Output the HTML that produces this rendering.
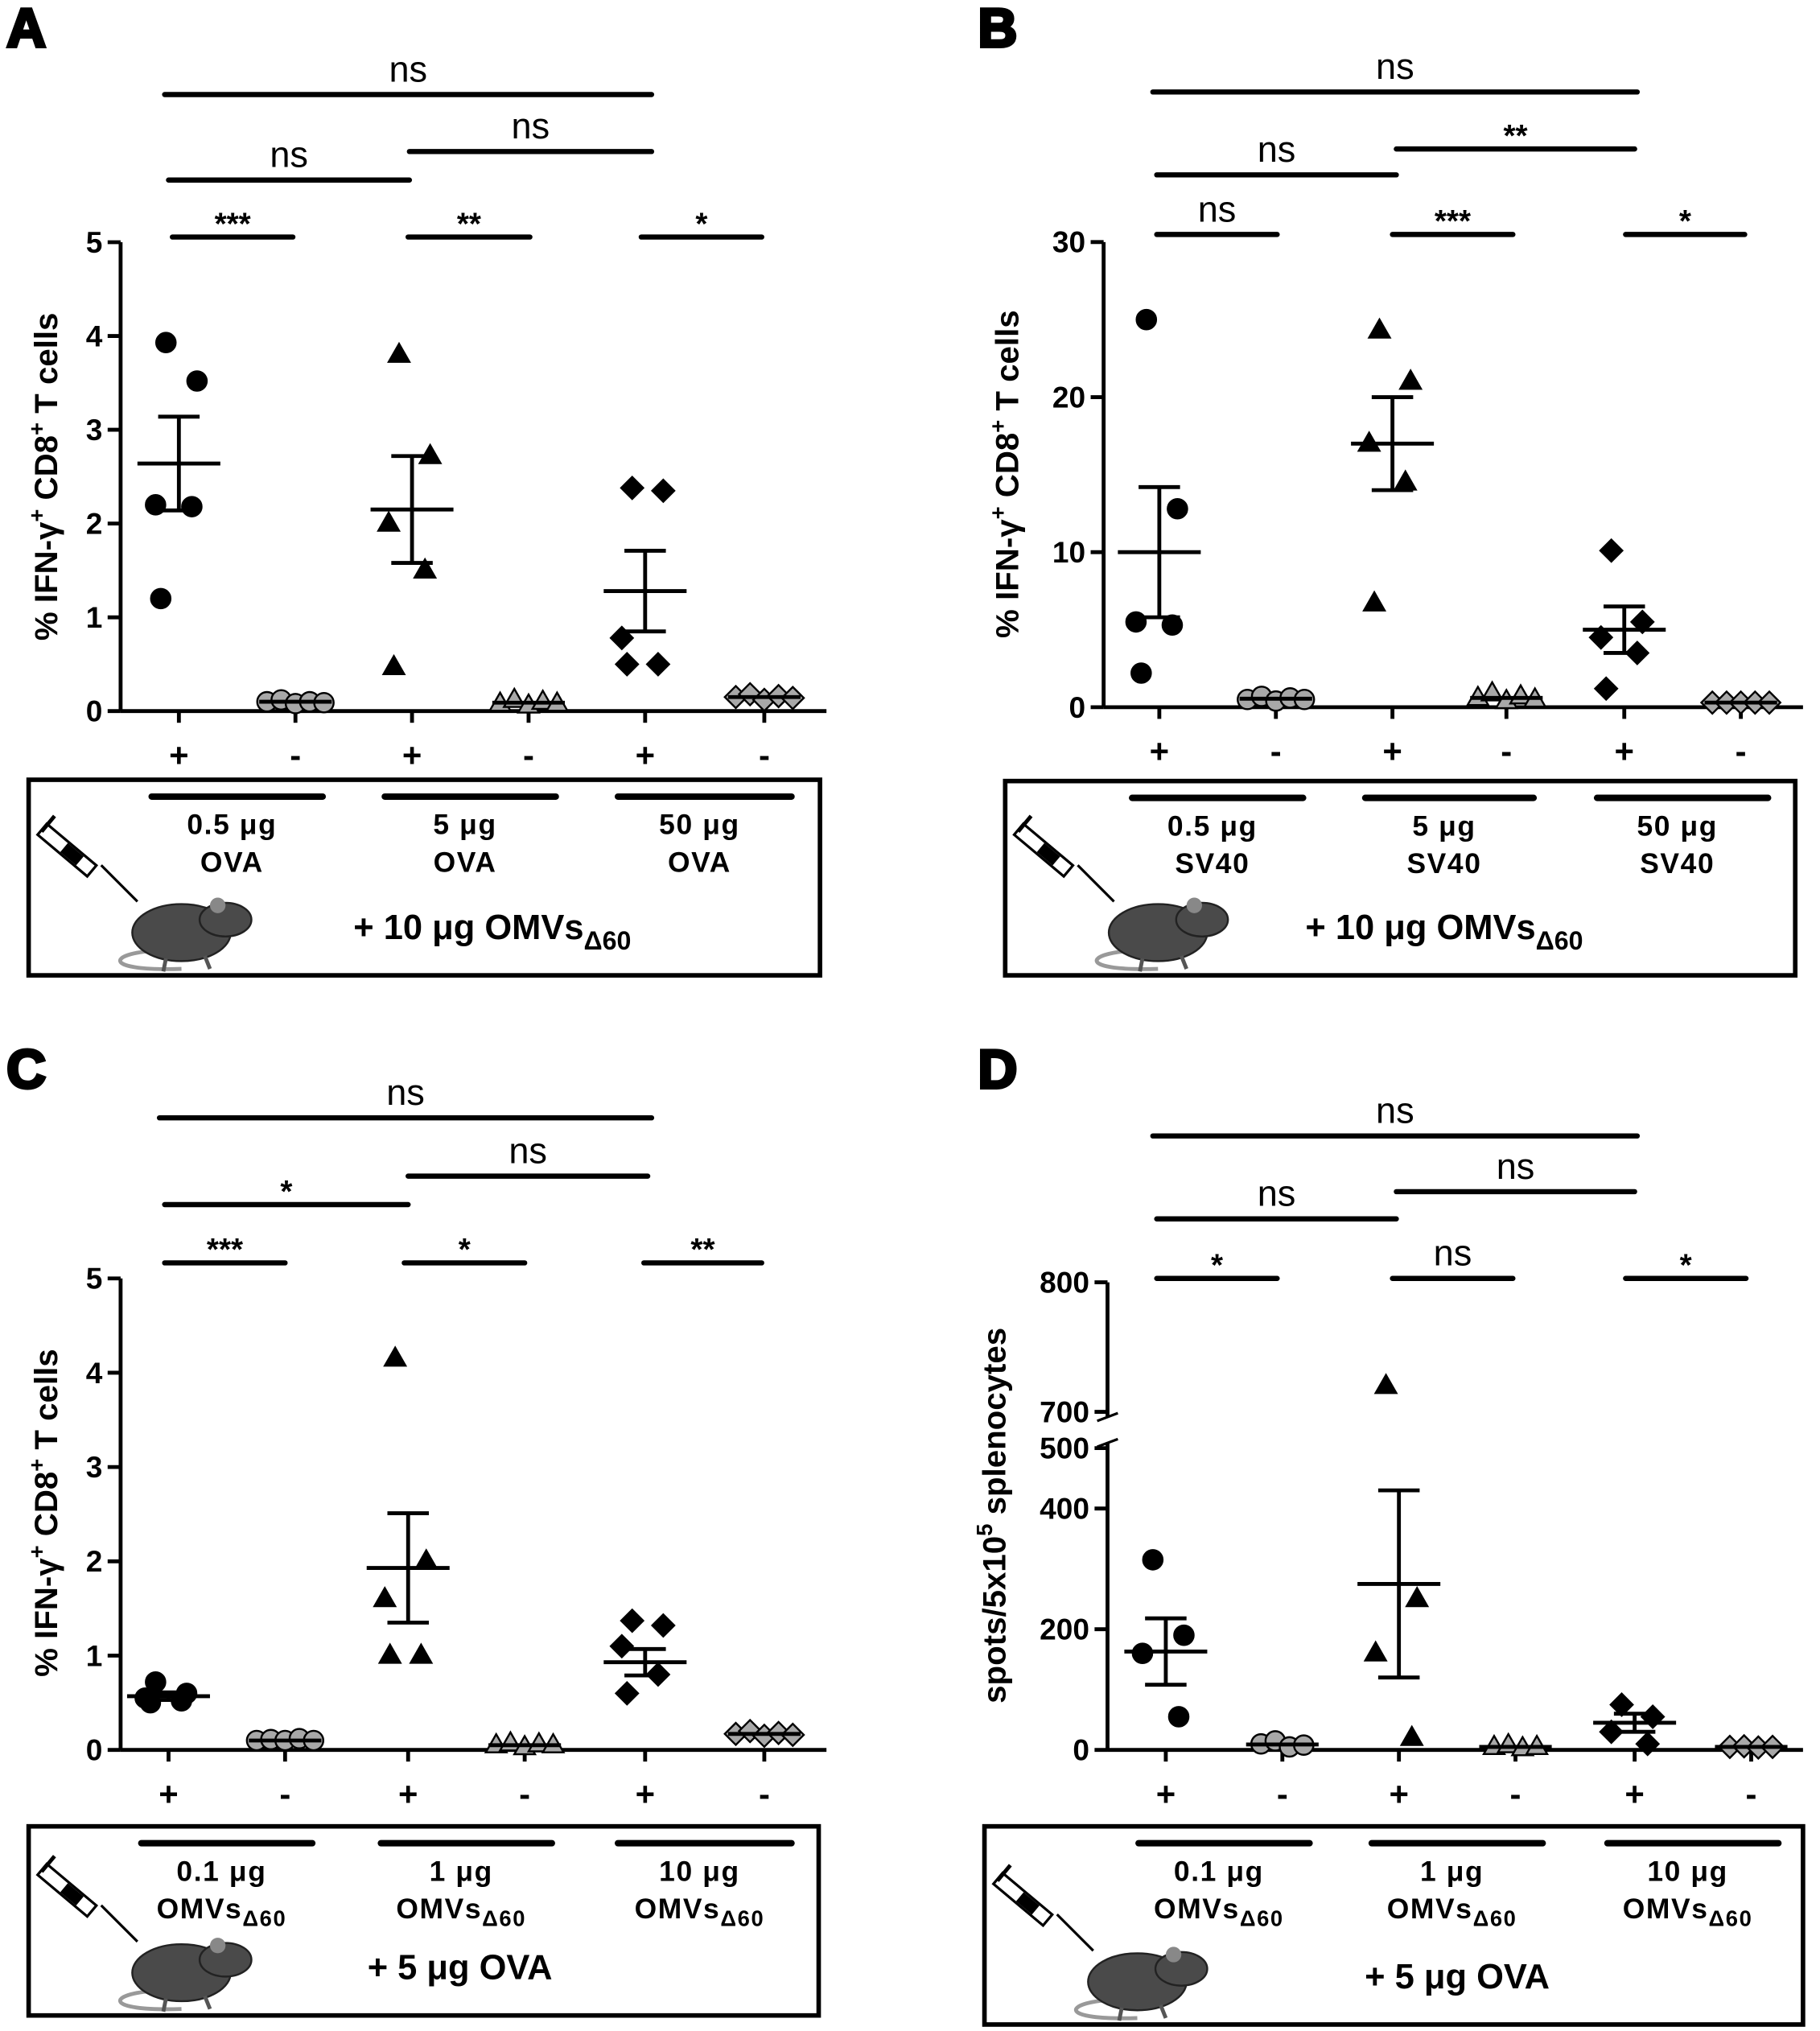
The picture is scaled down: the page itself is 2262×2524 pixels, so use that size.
<!DOCTYPE html>
<html><head><meta charset="utf-8"><style>
html,body{margin:0;padding:0;background:#fff}
svg{display:block}
text{font-family:"Liberation Sans",sans-serif;font-weight:bold;fill:#000}
</style></head><body>
<svg id="fig" width="2262" height="2524" viewBox="0 0 1405 1568" xmlns="http://www.w3.org/2000/svg"></svg>
<script>
// Panel A data (% IFN-g+ CD8+)
const aCats = ["+","-","+","-","+","-"];
const aG1 = [3.93,3.52,2.2,2.18,1.2];
const aG2 = [0.1,0.12,0.08,0.1,0.09];
const aG3 = [3.8,2.72,2.0,1.5,0.47];
const aG4 = [0.08,0.12,0.06,0.1,0.08];
const aG5 = [2.38,2.35,0.78,0.5,0.5];
const aG6 = [0.15,0.18,0.12,0.16,0.14];
const aMean = [2.64,0.1,2.15,0.09,1.28,0.15];
const aSem = [0.5,0.02,0.57,0.02,0.43,0.02];
const aTicks = [0,1,2,3,4,5];
// Panel B
const bG1 = [25,12.8,5.5,5.3,2.2];
const bG2 = [0.5,0.7,0.4,0.6,0.5];
const bG3 = [24.3,21,17,14.5,6.7];
const bG4 = [0.6,0.9,0.4,0.7,0.5];
const bG5 = [10.1,5.5,4.5,3.5,1.2];
const bG6 = [0.3,0.3,0.3,0.3,0.3];
const bMean = [10,0.55,17,0.6,5,0.3];
const bSem = [4.2,0.1,3,0.1,1.5,0.03];
const bTicks = [0,10,20,30];
// Panel C
const cG1 = [0.72,0.6,0.55,0.52,0.5];
const cG2 = [0.1,0.11,0.1,0.12,0.1];
const cG3 = [4.15,2.0,1.6,1.0,1.0];
const cG4 = [0.05,0.07,0.03,0.06,0.05];
const cG5 = [1.37,1.32,1.1,0.8,0.6];
const cG6 = [0.17,0.2,0.15,0.18,0.16];
const cMean = [0.57,0.1,1.93,0.05,0.93,0.17];
const cSem = [0.04,0.01,0.58,0.01,0.14,0.02];
const cTicks = [0,1,2,3,4,5];
// Panel D (spots)
const dG1 = [315,190,160,55];
const dG2 = [10,15,5,8];
const dG3 = [720,250,160,20];
const dG4 = [5,8,3,5];
const dG5 = [75,55,30,10];
const dG6 = [5,6,4,5];
const dMean = [163,9,275,5,45,5];
const dSem = [55,2,155,1,15,1];
const dTicks = [0,200,400,500,700,800];

const S = document.getElementById('fig');
const NS = "http://www.w3.org/2000/svg";
function mk(tag, at, parent){const e=document.createElementNS(NS,tag);for(const k in at)e.setAttribute(k,at[k]);(parent||S).appendChild(e);return e;}
function txt(x,y,s,size,anchor,parent){const t=mk('text',{x:x,y:y,'font-size':size,'text-anchor':anchor||'middle'},parent);t.textContent=s;return t;}
function ln(x1,y1,x2,y2,w,parent){return mk('line',{x1:x1,y1:y1,x2:x2,y2:y2,stroke:'#000','stroke-width':w||3},parent);}

function marker(g,shape,x,y,fill){
  const r=7.5;let e;
  if(shape==='circle') e=mk('circle',{cx:x,cy:y,r:r,fill:fill,stroke:'#000','stroke-width':1.5},g);
  else if(shape==='tri') e=mk('polygon',{points:`${x},${y-r-1} ${x-r-0.5},${y+r-2} ${x+r+0.5},${y+r-2}`,fill:fill,stroke:'#000','stroke-width':1.5},g);
  else if(shape==='dia') e=mk('polygon',{points:`${x},${y-r-1} ${x+r+1},${y} ${x},${y+r+1} ${x-r-1},${y}`,fill:fill,stroke:'#000','stroke-width':1.5},g);
  
  
}

function panel(P){
  const g=mk('g',{});
  
  
  txt(P.lx,P.ly,P.letter,42,'start',g).setAttribute('style','font-weight:900;stroke:#000;stroke-width:2.5');
  const y=P.y;
  const ax=mk('g',{},g);
  if(P.broken){
    ln(P.ax,y(0),P.ax,y(500)-4,3,ax);ln(P.ax,y(700)+4,P.ax,y(800),3,ax);
    ln(P.ax-8,y(500)-1,P.ax+8,y(500)-7,2,ax);ln(P.ax-8,y(700)+7,P.ax+8,y(700)+1,2,ax);
  } else ln(P.ax,y(0),P.ax,y(P.ticks[P.ticks.length-1]),3,ax);
  P.ticks.forEach(t=>{ln(P.ax-10,y(t),P.ax,y(t),3,ax);txt(P.ax-14,y(t)+8,String(t),23,'end',ax);});
  const xa=mk('g',{},g);
  ln(P.ax,y(0),P.xend,y(0),3,xa);
  P.cx.forEach((x,i)=>{ln(x,y(0),x,y(0)+9,3,xa);txt(x,y(0)+43,aCats[i],26,'middle',xa);});
  const yt=mk('text',{transform:`translate(${P.tx},${P.ty}) rotate(-90)`,'font-size':25,'text-anchor':'middle'},g);
  
  yt.innerHTML=P.title;
  const shapes=['circle','circle','tri','tri','dia','dia'];
  P.groups.forEach((arr,i)=>{
    const fill=i%2===0?'#000':'#a8a8a8';
    const n=arr.length;
    arr.forEach((v,j)=>{
      const off=(j-(n-1)/2)*(i%2===0?13:11);
      const sgn=(i%2===0)?((j%2)?1:-1):1;
      const dx=i%2===0?sgn*(10+ (j%3)*4):off;
      marker(g,shapes[i],P.cx[i]+dx,y(v),fill);
    });
    const m=P.mean[i],s=P.sem[i];
    const hw=i%2===0?32:28;
    const eb=mk('g',{},g);
    ln(P.cx[i]-hw,y(m),P.cx[i]+hw,y(m),3,eb);
    if(i%2===0){ln(P.cx[i],y(m+s),P.cx[i],y(m-s),3,eb);ln(P.cx[i]-16,y(m+s),P.cx[i]+16,y(m+s),3,eb);ln(P.cx[i]-16,y(m-s),P.cx[i]+16,y(m-s),3,eb);}
  });
  P.br.forEach(b=>{
    const bg=mk('g',{},g);
    mk('line',{x1:b[0],y1:b[2],x2:b[1],y2:b[2],stroke:'#000','stroke-width':4,'stroke-linecap':'round'},bg);
    const isNs=b[3]==='ns';
    txt((b[0]+b[1])/2,isNs?b[2]-10:b[2]-2,b[3],isNs?28:24,'middle',bg).setAttribute('style',isNs?'font-weight:normal':'');
  });
  const bx=mk('g',{},g);
  mk('rect',{x:P.box[0],y:P.box[1],width:P.box[2]-P.box[0],height:P.box[3]-P.box[1],fill:'none',stroke:'#000','stroke-width':3.5},bx);
  const bl=P.box[1]+13;
  for(let k=0;k<3;k++){
    const x1=P.cx[2*k]-21,x2=P.cx[2*k+1]+21;
    mk('line',{x1:x1,y1:bl,x2:x2,y2:bl,stroke:'#000','stroke-width':5,'stroke-linecap':'round'},bx);
    const cxm=(P.cx[2*k]+P.cx[2*k+1])/2-4;
    const t1=txt(cxm,bl+29,'',22,'middle',bx);t1.innerHTML=P.doses[k]+' μg';t1.setAttribute('letter-spacing','1');
    const t2=txt(cxm,bl+58,'',22,'middle',bx);t2.innerHTML=P.agent;t2.setAttribute('letter-spacing','1');
  }
  const t3=txt(P.subx,P.box[3]-28,'',27,'middle',bx);t3.innerHTML=P.sub;
  const ic=mk('g',{transform:`translate(${P.box[0]+6},${P.box[3]-125})`},bx);
  
  mk('line',{x1:50,y1:40,x2:78,y2:68,stroke:'#000','stroke-width':2},ic);
  mk('rect',{x:8,y:8,width:50,height:11,fill:'#fff',stroke:'#000','stroke-width':2,transform:'rotate(40 8 8)'},ic);
  mk('rect',{x:30,y:9,width:16,height:9,fill:'#000',transform:'rotate(40 8 8)'},ic);
  mk('line',{x1:4,y1:14,x2:14,y2:2,stroke:'#000','stroke-width':3},ic);
  mk('path',{d:'M92,106 C55,108 50,122 112,120',fill:'none',stroke:'#999','stroke-width':3},ic);
  mk('ellipse',{cx:112,cy:92,rx:38,ry:22,fill:'#4a4a4a',stroke:'#222','stroke-width':1.5},ic);
  mk('ellipse',{cx:146,cy:82,rx:20,ry:13,fill:'#4a4a4a',stroke:'#222','stroke-width':1.5},ic);
  mk('circle',{cx:140,cy:71,r:6,fill:'#888'},ic);
  mk('line',{x1:100,y1:112,x2:98,y2:122,stroke:'#555','stroke-width':3},ic);
  mk('line',{x1:130,y1:110,x2:134,y2:120,stroke:'#555','stroke-width':3},ic);
}

const fnA=v=>549-v*72.4, fnB=v=>546-v*11.97, fnC=v=>1351-v*72.8;
const fnD=v=>v<=500?1351-v*0.466:1090-(v-700)*1.0;
const ttl='% IFN-γ<tspan dy="-10" font-size="17">+</tspan><tspan dy="10"> CD8</tspan><tspan dy="-10" font-size="17">+</tspan><tspan dy="10"> T cells</tspan>';
panel({letter:'A',lx:5,ly:36,y:fnA,ax:93,xend:638,cx:[138,228,318,408,498,590],ticks:aTicks,title:ttl,tx:44,ty:368,
 groups:[aG1,aG2,aG3,aG4,aG5,aG6],mean:aMean,sem:aSem,
 br:[[133,226,183,'***'],[315,409,183,'**'],[495,588,183,'*'],[130,316,139,'ns'],[316,503,117,'ns'],[127,503,73,'ns']],
 box:[22,602,633,753],doses:['0.5','5','50'],agent:'OVA',sub:'+ 10 μg OMVs<tspan dy="8" font-size="20">Δ60</tspan>',subx:380});
panel({letter:'B',lx:755,ly:36,y:fnB,ax:852,xend:1392,cx:[895,985,1075,1163,1254,1344],ticks:bTicks,title:ttl,tx:786,ty:366,
 groups:[bG1,bG2,bG3,bG4,bG5,bG6],mean:bMean,sem:bSem,
 br:[[893,986,181,'ns'],[1075,1168,181,'***'],[1255,1347,181,'*'],[893,1078,135,'ns'],[1078,1262,115,'**'],[890,1264,71,'ns']],
 box:[776,603,1386,753],doses:['0.5','5','50'],agent:'SV40',sub:'+ 10 μg OMVs<tspan dy="8" font-size="20">Δ60</tspan>',subx:1115});
const omv='OMVs<tspan dy="6" font-size="17">Δ60</tspan>';
panel({letter:'C',lx:5,ly:840,y:fnC,ax:93,xend:638,cx:[130,220,315,405,498,590],ticks:cTicks,title:ttl,tx:44,ty:1168,
 groups:[cG1,cG2,cG3,cG4,cG5,cG6],mean:cMean,sem:cSem,
 br:[[127,220,975,'***'],[312,405,975,'*'],[497,588,975,'**'],[127,315,930,'*'],[315,500,908,'ns'],[123,503,863,'ns']],
 box:[22,1410,632,1556],doses:['0.1','1','10'],agent:omv,sub:'+ 5 μg OVA',subx:355});
panel({letter:'D',lx:755,ly:840,y:fnD,ax:855,xend:1392,cx:[900,990,1080,1170,1262,1352],ticks:dTicks,broken:true,
 title:'spots/5x10<tspan dy="-10" font-size="17">5</tspan><tspan dy="10"> splenocytes</tspan>',tx:776,ty:1170,
 groups:[dG1,dG2,dG3,dG4,dG5,dG6],mean:dMean,sem:dSem,
 br:[[893,986,987,'*'],[1075,1168,987,'ns'],[1255,1348,987,'*'],[893,1078,941,'ns'],[1078,1262,920,'ns'],[890,1264,877,'ns']],
 box:[760,1410,1392,1563],doses:['0.1','1','10'],agent:omv,sub:'+ 5 μg OVA',subx:1125});
</script>
</body></html>
